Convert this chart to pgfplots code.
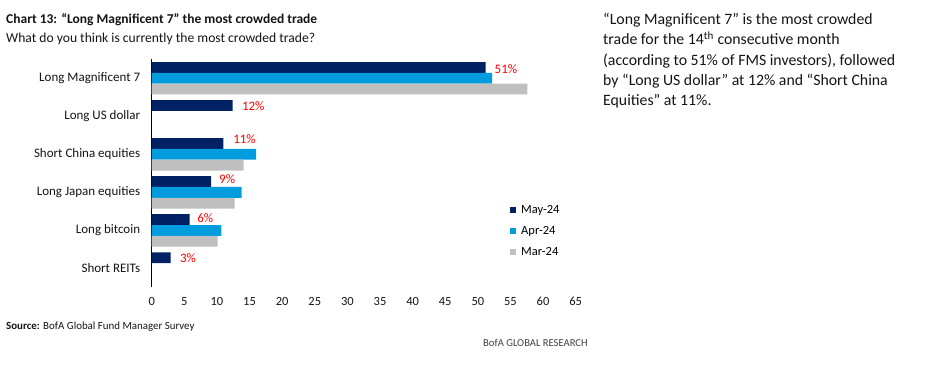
\documentclass[border=0pt]{standalone}
\usepackage{pgfplots}
\pgfplotsset{compat=1.18}
\usepackage{fontspec}
\setmainfont{Carlito}
\definecolor{may}{RGB}{0,33,99}
\definecolor{apr}{RGB}{0,156,222}
\definecolor{mar}{RGB}{191,191,191}
\definecolor{txt}{RGB}{20,20,20}
\begin{document}
\begin{tikzpicture}[x=1pt,y=1pt]
\useasboundingbox (0,0) rectangle (927,377);
% titles
\node[anchor=base west, inner sep=0, font=\bfseries\fontsize{13.5}{15}\selectfont, text=txt] at (6,353) {Chart 13: “Long Magnificent 7” the most crowded trade};
\node[anchor=base west, inner sep=0, font=\fontsize{13.6}{15}\selectfont, text=txt] at (6,334) {What do you think is currently the most crowded trade?};
\node[anchor=base west, inner sep=0, font=\fontsize{10.9}{12}\selectfont, text=txt] at (6,47) {\textbf{Source:} BofA Global Fund Manager Survey};
\node[anchor=base west, inner sep=0, font=\fontsize{10.6}{12}\selectfont, text=black!75] at (483,30) {BofA GLOBAL RESEARCH};
% right text
\begin{scope}[every node/.style={anchor=base west, inner sep=0, font=\fontsize{15.8}{18}\selectfont, text=txt}]
\node at (603,352) {“Long Magnificent 7” is the most crowded};
\node at (603,332) {trade for the 14\textsuperscript{th} consecutive month};
\node at (603,311.5) {(according to 51\% of FMS investors), followed};
\node at (603,291) {by “Long US dollar” at 12\% and “Short China};
\node at (603,271) {Equities” at 11\%.};
\end{scope}
\begin{axis}[
  at={(151.7pt,89.5pt)}, anchor=south west,
  scale only axis, width=424pt, height=228.3pt,
  xbar, bar width=10.8pt,
  xmin=0, xmax=65, ymin=-0.5, ymax=5.5,
  xtick={0,5,...,65}, ytick={0,...,5},
  yticklabels={Short REITs, Long bitcoin, Long Japan equities, Short China equities, Long US dollar, Long Magnificent 7},
  axis lines*=left,
  x axis line style={draw=none},
  y axis line style={line width=1pt},
  major tick length=0pt,
  /pgf/number format/assume math mode=true,
  tick label style={font=\fontsize{12.5}{14}\selectfont, text=txt},
  xticklabel style={yshift=-6pt},
  yticklabel style={font=\fontsize{13}{15}\selectfont, xshift=-8pt},
  legend style={draw=none, fill=none, at={(axis cs:54.5,1.775)}, anchor=north west,
    font=\fontsize{12.5}{14}\selectfont, row sep=7.5pt, cells={anchor=west}},
  legend image code/.code={\fill[#1] (0pt,-2.8pt) rectangle (5.6pt,2.8pt); \path (8.8pt,0pt);},
]
\addplot[fill=may, draw=none, bar shift=10.8pt, point meta=explicit symbolic,
  visualization depends on={\thisrow{dx}\as\dx},
  visualization depends on={\thisrow{dy}\as\dy},
  nodes near coords={\pgfplotspointmeta\%},
  nodes near coords style={text=red, font=\fontsize{13}{15}\selectfont, anchor=west, xshift=5.5pt+\dx pt, yshift=\dy pt}]
  table[x=v, y=c, meta=lbl] {
v    c  lbl dx   dy
51.2 5  51  0    -2
12.4 4  12  0.4  -1
11.0 3  11  0.8  4
9.1  2  9   -0.9 2
5.8  1  6   -1.3 2
2.9  0  3   0.4  0
};
\addplot[fill=apr, draw=none, bar shift=0pt]
  coordinates {(52.2,5) (16.0,3) (13.8,2) (10.7,1)};
\addplot[fill=mar, draw=none, bar shift=-10.8pt]
  coordinates {(57.6,5) (14.1,3) (12.7,2) (10.1,1)};
\legend{May-24, Apr-24, Mar-24}
\end{axis}
\end{tikzpicture}
\end{document}
